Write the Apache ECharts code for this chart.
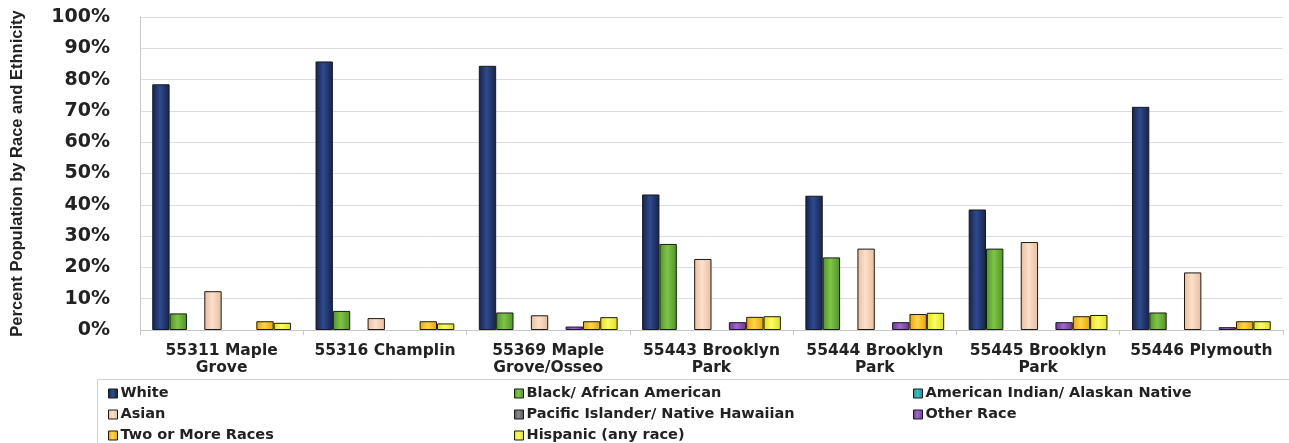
<!DOCTYPE html>
<html>
<head>
<meta charset="utf-8">
<script src="https://cdn.jsdelivr.net/npm/echarts@6/dist/echarts.min.js"></script>
<style>html,body{margin:0;padding:0;background:#fff}#c{width:1289px;height:443px}</style>
</head>
<body>
<div id="c"></div>
<script>
var categories = ["55311 Maple\nGrove", "55316 Champlin", "55369 Maple\nGrove/Osseo", "55443 Brooklyn\nPark", "55444 Brooklyn\nPark", "55445 Brooklyn\nPark", "55446 Plymouth"];
var seriesNames = ["White", "Black/ African American", "American Indian/ Alaskan Native", "Asian", "Pacific Islander/ Native Hawaiian", "Other Race", "Two or More Races", "Hispanic (any race)"];
var white = [78.5, 85.8, 84.4, 43.3, 42.9, 38.5, 71.3];
var black = [5.3, 6.1, 5.6, 27.5, 23.2, 26.0, 5.6];
var amIndian = [0, 0, 0, 0, 0, 0, 0];
var asian = [12.4, 3.8, 4.7, 22.7, 26.0, 28.1, 18.4];
var pacIslander = [0, 0, 0, 0, 0, 0, 0];
var otherRace = [0, 0, 1.1, 2.5, 2.5, 2.5, 0.9];
var twoOrMore = [2.8, 2.8, 2.8, 4.2, 5.1, 4.4, 2.8];
var hispanic = [2.3, 2.1, 4.1, 4.4, 5.5, 4.8, 2.8];
var yTicks = [0, 10, 20, 30, 40, 50, 60, 70, 80, 90, 100];

var values = [white, black, amIndian, asian, pacIslander, otherRace, twoOrMore, hispanic];
var colors = [
  ["#14224f", "#2f4a8c"],
  ["#4a9526", "#80c447"],
  ["#108f90", "#3cc0c0"],
  ["#e9bd9a", "#fbe0cb"],
  ["#555555", "#8a8a8a"],
  ["#6e3597", "#a06ac8"],
  ["#eba300", "#ffd54a"],
  ["#e0e010", "#fbfb6a"]
];
function grad(c) {
  return new echarts.graphic.LinearGradient(0, 0, 1, 0, [
    {offset: 0, color: c[0]}, {offset: 0.45, color: c[1]}, {offset: 1, color: c[0]}
  ]);
}
var chart = echarts.init(document.getElementById('c'), null, {renderer: 'canvas'});
var FONT = "'DejaVu Sans', sans-serif";
var NARROW = "'Liberation Sans', Arial, sans-serif";
var series = seriesNames.map(function (n, i) {
  return {
    name: n, type: 'bar',
    data: values[i].map(function (v) {
      return v > 0 ? v : {value: v, itemStyle: {borderWidth: 0, opacity: 0}};
    }),
    barGap: '0%', barCategoryGap: '15%',
    itemStyle: {color: grad(colors[i]), borderColor: '#1a1a1a', borderWidth: 1},
    emphasis: {disabled: true}
  };
});
function legendCol(names, left) {
  return {
    data: names, orient: 'vertical', left: left, top: 381, height: 120, width: 380,
    icon: 'rect', itemWidth: 9, itemHeight: 9, itemGap: 6,
    itemStyle: {opacity: 1, borderColor: '#1a1a1a', borderWidth: 1},
    textStyle: {fontFamily: FONT, fontWeight: 'bold', fontSize: 14.5, color: '#222', padding: [0, 0, 0, -2], lineHeight: 15},
    selectedMode: false
  };
}
chart.setOption({
  animation: false,
  backgroundColor: '#fff',
  grid: {left: 140, right: 6, top: 17, bottom: 113, containLabel: false, outerBoundsMode: 'none'},
  xAxis: {
    type: 'category', data: categories,
    axisLine: {show: true, lineStyle: {color: '#c8c8c8'}},
    axisTick: {show: true, length: 5, lineStyle: {color: '#c8c8c8'}},
    axisLabel: {fontFamily: FONT, fontWeight: 'bold', fontSize: 15.5, color: '#222', lineHeight: 17, margin: 12, interval: 0}
  },
  yAxis: {
    type: 'value', min: 0, max: 100, interval: 10,
    name: 'Percent Population by Race and Ethnicity',
    nameLocation: 'middle', nameGap: 114, nameRotate: 90,
    nameTextStyle: {fontFamily: NARROW, fontWeight: 'bold', fontSize: 16.5, color: '#222'},
    axisLine: {show: true, lineStyle: {color: '#c8c8c8'}},
    axisTick: {show: false},
    splitLine: {lineStyle: {color: '#dcdcdc'}},
    axisLabel: {
      fontFamily: FONT, fontWeight: 'bold', fontSize: 19, color: '#222', margin: 30,
      formatter: function (v) { return yTicks.indexOf(v) >= 0 ? v + '%' : ''; }
    }
  },
  legend: [
    legendCol([seriesNames[0], seriesNames[3], seriesNames[6]], 103),
    legendCol([seriesNames[1], seriesNames[4], seriesNames[7]], 509),
    legendCol([seriesNames[2], seriesNames[5]], 908)
  ],
  graphic: [{
    type: 'rect', left: 95, top: 377,
    shape: {width: 1192, height: 65},
    style: {fill: 'none', stroke: '#d0d0d0', lineWidth: 1}, z: -1
  }],
  series: series
});
</script>
</body>
</html>
